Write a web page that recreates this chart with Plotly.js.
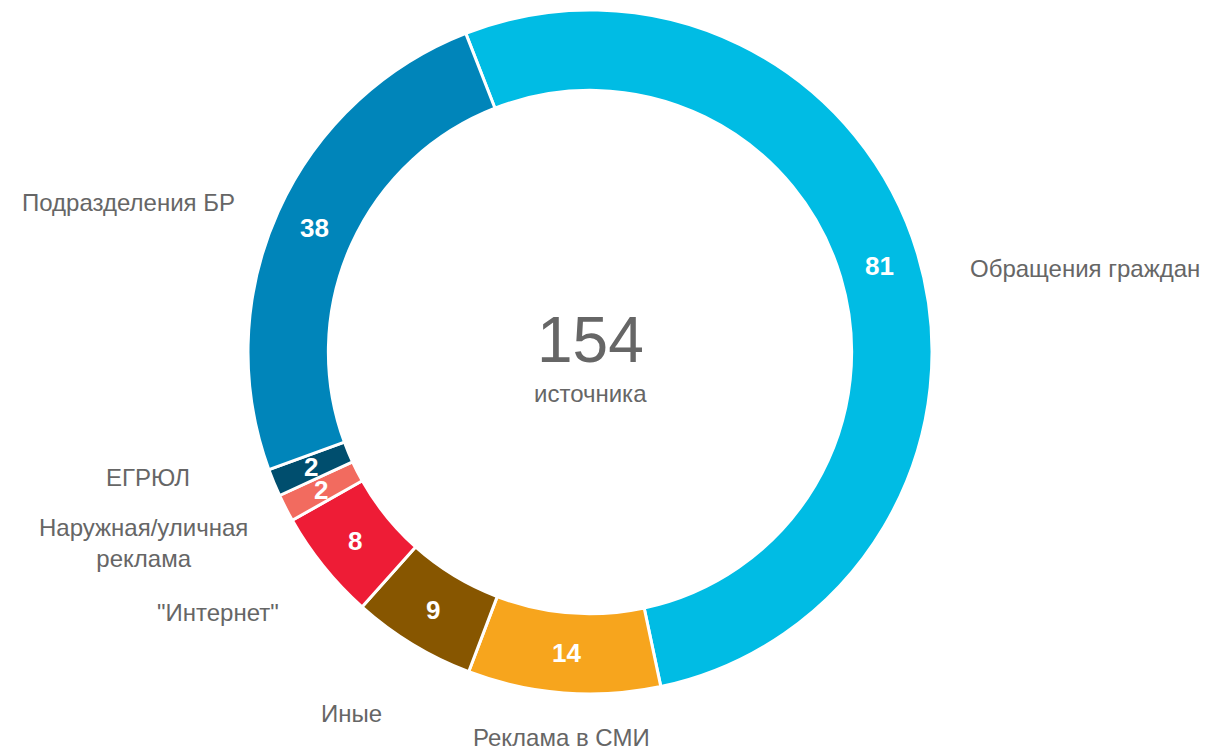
<!DOCTYPE html>
<html><head><meta charset="utf-8">
<script src="https://cdn.plot.ly/plotly-3.0.1.min.js"></script>
<style>html,body{margin:0;padding:0;background:#fff}#chart{width:1221px;height:752px}</style>
</head><body><div id="chart"></div>
<script>
const categories = ["Обращения граждан","Реклама в СМИ","Иные","\"Интернет\"","Наружная/уличная<br>реклама","ЕГРЮЛ","Подразделения БР"];
const values = [81,14,9,8,2,2,38];
const colors = ["#00BCE4","#F7A51D","#875600","#EE1C36","#F26B5F","#004E6E","#0085BA"];
const totalLabel = "154";
const totalSub = "источника";
// category label positions (paper coords)
const labelPos = [[1085,268],[561,737],[351,713],[218,612],[143,543],[148,478],[128,203]];

const W=1221,H=752, cx=590, cy=352, R=342, hole=0.765, rot=-21.3;
const font="Liberation Sans, Arial, sans-serif";
const total = values.reduce((a,b)=>a+b,0);
const annotations=[];
let cum=0;
const rMid = R*(1+hole)/2;
values.forEach((v,i)=>{
  const a=(rot + (cum+v/2)/total*360)*Math.PI/180;
  cum+=v;
  const px=cx+rMid*Math.sin(a), py=cy-rMid*Math.cos(a);
  annotations.push({x:px/W,y:1-py/H,xref:'paper',yref:'paper',text:'<b>'+v+'</b>',showarrow:false,
    font:{family:font,size:26,color:'#ffffff'},xanchor:'center',yanchor:'middle'});
  annotations.push({x:labelPos[i][0]/W,y:1-labelPos[i][1]/H,xref:'paper',yref:'paper',text:categories[i],showarrow:false,
    font:{family:font,size:24,color:'#666666'},xanchor:'center',yanchor:'middle',align:'center',borderpad:0});
});
annotations.push({x:cx/W,y:1-340/H,xref:'paper',yref:'paper',text:totalLabel,showarrow:false,font:{family:font,size:64,color:'#666666'},xanchor:'center',yanchor:'middle'});
annotations.push({x:cx/W,y:1-393/H,xref:'paper',yref:'paper',text:totalSub,showarrow:false,font:{family:font,size:24,color:'#666666'},xanchor:'center',yanchor:'middle'});

const trace={type:'pie',values:values,labels:categories,sort:false,direction:'clockwise',rotation:rot,hole:hole,
  marker:{colors:colors,line:{color:'#ffffff',width:3}},textinfo:'none',hoverinfo:'label+value',
  domain:{x:[(cx-R)/W,(cx+R)/W],y:[1-(cy+R)/H,1-(cy-R)/H]}};
Plotly.newPlot('chart',[trace],{width:W,height:H,margin:{l:0,r:0,t:0,b:0},showlegend:false,
  paper_bgcolor:'#fff',annotations:annotations},{displayModeBar:false});
</script></body></html>
